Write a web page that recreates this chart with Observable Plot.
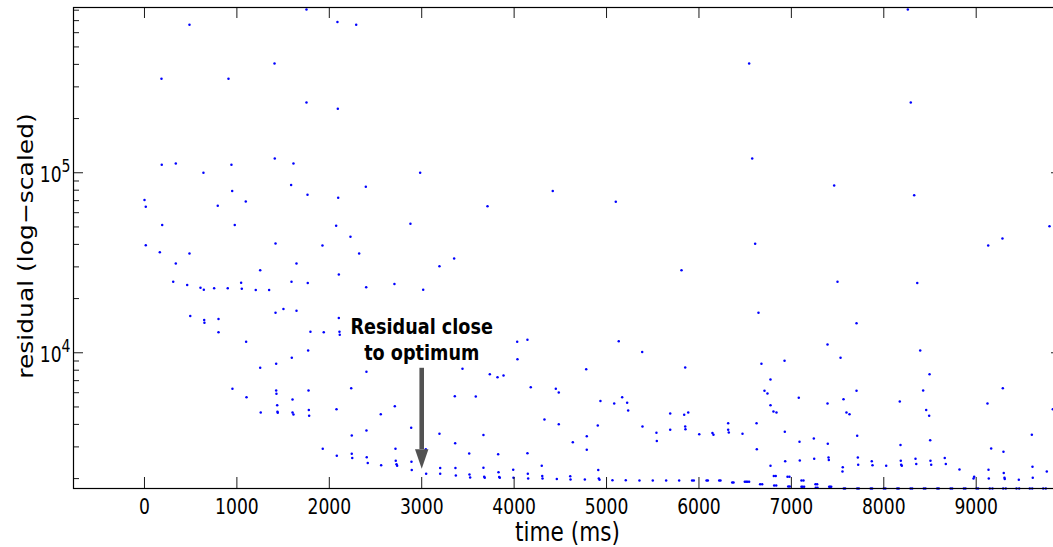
<!DOCTYPE html>
<html>
<head>
<meta charset="utf-8">
<script src="https://cdn.jsdelivr.net/npm/d3@7"></script>
<script src="https://cdn.jsdelivr.net/npm/@observablehq/plot@0.6"></script>
<style>
html, body { margin: 0; padding: 0; background: #fff; overflow: hidden; }
#chart { width: 1053px; height: 547px; overflow: hidden; }
</style>
</head>
<body>
<div id="chart"></div>
<script>
// ---- data (time in ms, residual) ----
const timeMs = [
  487, 1753, 2088, 2291, 184, 909, 1407, 1753, 2092, 187,
  339, 638, 941, 1410, 1612, 1587, 949, 1764, 2096, 0,
  14, 793, 1096, 192, 977, 2074, 2229, 14, 1418, 1926,
  2983, 2395, 4418, 3712, 5100, 2878, 6543, 8260, 8292, 6576,
  7463, 8329, 9793, 9284, 9130, 6608, 166, 487, 339, 311,
  462, 606, 642, 754, 901, 1046, 1053, 1204, 1349, 1252,
  1645, 1591, 1767, 2103, 2323, 495, 646, 649, 801, 801,
  1418, 1504, 1645, 2103, 1796, 1940, 2110, 2113, 1100, 1771,
  1594, 1425, 1252, 952, 1104, 1425, 1428, 1602, 1775, 1436,
  1439, 1442, 1258, 1602, 1612, 1778, 1782, 2078, 2237, 2243,
  1929, 2081, 2243, 2248, 2399, 2705, 3016, 3192, 3351, 5811,
  2402, 2557, 2709, 2886, 3358, 3585, 3441, 3737, 3820, 3885,
  4033, 4144, 4036, 4180, 4451, 4483, 4780, 5132, 5386, 4934,
  5083, 5169, 5223, 5234, 4328, 4483, 4635, 4786, 4786, 4905,
  5389, 5540, 5544, 5689, 5840, 5884, 5689, 5851, 5854, 5851,
  6003, 2402, 3192, 3362, 3668, 3514, 3827, 4144, 4299, 3044,
  2716, 2405, 2416, 2561, 2719, 2727, 2734, 2889, 2892, 3048,
  3200, 3200, 3365, 3369, 3517, 3524, 3668, 3676, 3682, 3831,
  3838, 3845, 3990, 3993, 4148, 4152, 4304, 4307, 4462, 4607,
  4610, 4765, 4910, 4916, 4924, 5064, 5208, 5356, 5500, 5645,
  5786, 5926, 5944, 7499, 8362, 6644, 7705, 7391, 8394, 6926,
  7532, 6676, 6774, 8495, 6709, 6741, 6774, 6806, 6839, 7080,
  7391, 7564, 7596, 7629, 7705, 8426, 8173, 8459, 8491, 9288,
  9122, 9829, 6146, 6157, 6316, 6316, 6323, 6471, 6623, 6626,
  6774, 6929, 6933, 7088, 7091, 7243, 7247, 7394, 7402, 7405,
  7556, 7553, 7712, 7719, 7723, 7870, 7878, 8026, 8181, 8184,
  8188, 8195, 8343, 8351, 8502, 8505, 8513, 8660, 8671, 8819,
  8978, 8971, 9133, 9136, 9162, 9295, 9298, 9306, 9309, 9461,
  9602, 9609, 9612, 9764, 6082, 6096, 6219, 6233, 6360, 6374,
  6496, 6511, 6525, 6543, 6662, 6684, 6810, 6831, 6814, 6836,
  6958, 6979, 6966, 6983, 7109, 7131, 7109, 7120, 7138, 7261,
  7279, 7264, 7283, 7409, 7420, 7431, 7567, 7582, 7712, 7730,
  7858, 7874, 8000, 8018, 8145, 8162, 8289, 8307, 8433, 8451,
  8578, 8595, 8722, 8740, 8866, 8884, 9003, 9021, 9147, 9176,
  9292, 9320, 9436, 9465, 9580, 9606, 9725, 9753
];
const residual = [
  664000, 807000, 687000, 664000, 333000, 333000, 405000, 246000, 227000, 110800,
  112600, 100000, 110800, 120000, 112600, 85400, 79100, 75500, 72700, 70500,
  64700, 65600, 69300, 51200, 51200, 50800, 44100, 39600, 40500, 39500,
  100000, 83600, 79100, 65200, 69100, 52100, 405000, 807000, 246000, 120000,
  85000, 75100, 50500, 43100, 39500, 40300, 36200, 35600, 31300, 24800,
  23800, 23000, 22400, 22800, 22800, 24500, 22700, 22300, 22300, 28700,
  31300, 24800, 24400, 27200, 35600, 16000, 15200, 14700, 15400, 13000,
  16700, 17500, 17100, 15600, 13100, 13000, 13100, 12600, 11500, 10300,
  9380, 8690, 8250, 6310, 5670, 6180, 5920, 5500, 6180, 5110,
  4700, 4640, 4660, 4660, 4540, 4810, 4470, 4860, 6360, 3470,
  2930, 2680, 2750, 2600, 23100, 24100, 22400, 30200, 33400, 28700,
  7840, 4560, 5050, 3830, 5740, 5720, 8150, 7600, 7310, 7480,
  11500, 11800, 9210, 6440, 6310, 6020, 8110, 11600, 10100, 5390,
  5230, 5670, 5270, 4780, 4260, 4010, 3180, 3440, 2890, 3950,
  3900, 3590, 3230, 4600, 4530, 4660, 3740, 3900, 3760, 8280,
  3530, 3700, 3550, 3140, 3490, 2760, 2730, 2770, 2360, 2910,
  2930, 2630, 2440, 2370, 2510, 2400, 2360, 2480, 2230, 2130,
  2290, 2130, 2290, 2080, 2110, 2030, 2300, 2050, 2020, 2170,
  2040, 2020, 2240, 2020, 2130, 2000, 2070, 2000, 1990, 2060,
  1980, 1980, 2230, 2000, 1970, 1960, 1960, 1950, 1950, 1950,
  1950, 1950, 1950, 24800, 24400, 16700, 14600, 11100, 10300, 9030,
  9380, 8690, 7110, 7600, 6150, 5940, 5110, 4720, 4660, 5620,
  5230, 5520, 4660, 4560, 6150, 6180, 5360, 4810, 4470, 6360,
  5230, 4860, 3580, 3500, 4060, 3740, 3610, 3550, 4060, 2910,
  2360, 3640, 2500, 3200, 2520, 3340, 2580, 3120, 2620, 2540,
  2310, 2190, 3460, 2620, 2390, 2500, 2370, 2360, 3070, 2510,
  2390, 2360, 2580, 2410, 3270, 2510, 2390, 2600, 2410, 2250,
  2050, 2000, 2240, 2000, 2940, 2820, 2150, 2020, 1990, 1970,
  3500, 2330, 2020, 2190, 1950, 1950, 1950, 1950, 1900, 1900,
  1920, 1920, 1920, 1920, 1860, 1860, 2070, 2070, 1830, 1830,
  2050, 2050, 1810, 1810, 1950, 1950, 1800, 1800, 1800, 1860,
  1860, 1780, 1780, 1800, 1800, 1800, 1760, 1760, 1760, 1760,
  1760, 1760, 1760, 1760, 1760, 1760, 1760, 1760, 1760, 1760,
  1760, 1760, 1760, 1760, 1760, 1760, 1760, 1760, 1760, 1760,
  1760, 1760, 1760, 1760, 1760, 1760, 1760, 1760
];
const xTickValues = [0, 1000, 2000, 3000, 4000, 5000, 6000, 7000, 8000, 9000];
const xTickLabels = ["0", "1000", "2000", "3000", "4000", "5000", "6000", "7000", "8000", "9000"];
const yMajorTicks = [10000, 100000];
const yMajorLabels = ["10^4", "10^5"];
const yMinorTicks = [2000, 3000, 4000, 5000, 6000, 7000, 8000, 9000,
  20000, 30000, 40000, 50000, 60000, 70000, 80000, 90000,
  200000, 300000, 400000, 500000, 600000, 700000, 800000];
const xDomain = [-768, 9923];
const yDomain = [1762, 828000];
const xLabel = "time (ms)";
const yLabel = "residual (log\u2212scaled)";
const annotation = [{x: 3000, y: 9120, text: "Residual close\nto optimum"}];
const arrow = [{x: 3000, from: 8200, base: 2900, tip: 2270}];

// ---- layout ----
const W = 1070, H = 547, mL = 73, mR = 9, mT = 7, mB = 59;
const fw = W - mL - mR, fh = H - mT - mB;
const FONT = "DejaVu Sans";
const n = Math.min(timeMs.length, residual.length);
const points = d3.range(n).map(i => ({t: timeMs[i], r: residual[i]}));

const downTriangle = {
  draw(ctx) { ctx.moveTo(0, 0); ctx.lineTo(-6.7, -19.5); ctx.lineTo(6.7, -19.5); ctx.closePath(); }
};
const tickColor = "#1a1a1a";

// text marks, in this order: x tick labels, y tick labels, x label, y label, annotation
const textMarks = [
  Plot.text(xTickLabels, {x: (d, i) => xTickValues[i], frameAnchor: "bottom", dy: 25.3,
    textAnchor: "middle", lineAnchor: "bottom", text: d => d, fontFamily: FONT, fontSize: 22, fill: "#000"}),
  Plot.text(yMajorLabels, {y: (d, i) => yMajorTicks[i], frameAnchor: "left", dx: -3, dy: 9.4,
    textAnchor: "end", lineAnchor: "bottom", text: d => d, fontFamily: FONT, fontSize: 22, fill: "#000"}),
  Plot.text([xLabel], {frameAnchor: "bottom", dy: 52, textAnchor: "middle", lineAnchor: "bottom",
    text: d => d, fontFamily: FONT, fontSize: 27, fill: "#000"}),
  Plot.text([yLabel], {frameAnchor: "left", dx: -41, dy: -2, rotate: -90, textAnchor: "middle",
    lineAnchor: "bottom", text: d => d, fontFamily: FONT, fontSize: 25, fill: "#000"}),
  Plot.text(annotation, {x: "x", y: "y", text: "text", textAnchor: "middle", lineAnchor: "bottom",
    lineHeight: 1.24, fontFamily: FONT, fontSize: 21, fontWeight: "bold", fill: "#000"})
];

const svg = Plot.plot({
  width: W, height: H,
  marginLeft: mL, marginRight: mR, marginTop: mT, marginBottom: mB,
  style: {maxWidth: "none", background: "white", overflow: "hidden"},
  x: {domain: xDomain, axis: null},
  y: {type: "log", domain: yDomain, axis: null},
  marks: [
    Plot.dot(points, {x: "t", y: "r", r: 1.25, fill: "#0000ff", stroke: null}),
    Plot.ruleX(xTickValues, {x: d => d, insetTop: fh - 11, stroke: tickColor}),
    Plot.ruleX(xTickValues, {x: d => d, insetBottom: fh - 11, stroke: tickColor}),
    Plot.ruleY(yMajorTicks, {y: d => d, insetRight: fw - 10, stroke: tickColor}),
    Plot.ruleY(yMajorTicks, {y: d => d, insetLeft: fw - 10, stroke: tickColor}),
    Plot.ruleY(yMinorTicks, {y: d => d, insetRight: fw - 6, stroke: tickColor}),
    Plot.ruleY(yMinorTicks, {y: d => d, insetLeft: fw - 6, stroke: tickColor}),
    Plot.frame({stroke: "#000", strokeWidth: 1.2}),
    Plot.ruleX(arrow, {x: "x", y1: "from", y2: "base", stroke: "#525252", strokeWidth: 4.6}),
    Plot.dot(arrow, {x: "x", y: "tip", symbol: downTriangle, fill: "#525252", stroke: null}),
    ...textMarks
  ]
});

// ---- typographic adjustments (text stays real text) ----
const root = d3.select(svg);
const textGroups = root.selectAll('g[aria-label="text"]').nodes();
const [gXTicks, gYTicks, gXLabel, gYLabel, gNote] = textGroups;

d3.select(gYTicks).selectAll("text").each(function () {
  const [base, exp] = this.textContent.split("^");
  const t = d3.select(this);
  t.text(null);
  t.append("tspan").text(base);
  t.append("tspan").attr("dy", -10).attr("font-size", 18).text(exp);
});
function squeeze(g, sx, sy) {
  if (!g) return;
  d3.select(g).selectAll("text").attr("transform", function () {
    return (this.getAttribute("transform") || "") + ` scale(${sx},${sy})`;
  });
}
squeeze(gXTicks, 0.78, 1);
squeeze(gYTicks, 0.78, 1);
squeeze(gXLabel, 0.8, 1);
squeeze(gYLabel, 1, 0.88);
squeeze(gNote, 0.84, 1);

document.getElementById("chart").appendChild(svg);
</script>
</body>
</html>
